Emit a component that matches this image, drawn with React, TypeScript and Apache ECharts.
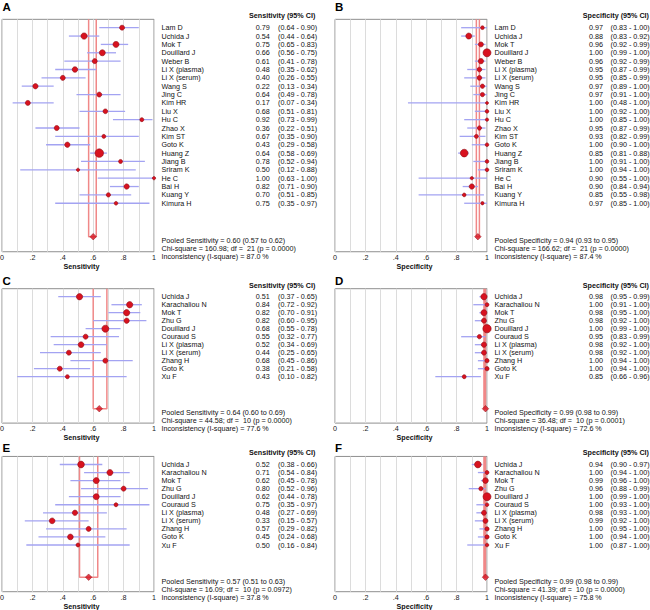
import React, { useEffect, useRef } from 'react';
import * as echarts from 'echarts';

const FONT = '"Liberation Sans", Arial, Helvetica, sans-serif';
const FS = 7.2;

const namesAB = ['Lam D','Uchida J','Mok T','Douillard J','Weber B','Li X (plasma)','Li X (serum)','Wang S','Jing C','Kim HR','Liu X','Hu C','Zhao X','Kim ST','Goto K','Huang Z','Jiang B','Sriram K','He C','Bai H','Kuang Y','Kimura H'];
const namesCF = ['Uchida J','Karachaliou N','Mok T','Zhu G','Douillard J','Couraud S','Li X (plasma)','Li X (serum)','Zhang H','Goto K','Xu F'];

const estA = [0.79,0.54,0.75,0.66,0.61,0.48,0.40,0.22,0.64,0.17,0.68,0.92,0.36,0.67,0.43,0.64,0.78,0.50,1.00,0.82,0.70,0.75];
const loA = [0.64,0.44,0.65,0.56,0.41,0.35,0.26,0.13,0.49,0.07,0.51,0.73,0.22,0.35,0.29,0.58,0.52,0.12,0.63,0.71,0.51,0.35];
const hiA = [0.90,0.64,0.83,0.75,0.78,0.62,0.55,0.34,0.78,0.34,0.81,0.99,0.51,0.90,0.58,0.69,0.94,0.88,1.00,0.90,0.85,0.97];
const weightA = [5,6.3,6,6,5,5.5,5,5.3,5,5,4.7,4,5,4,5.3,8.5,4,3.3,3.3,5.3,4.3,3.7];

const estB = [0.97,0.88,0.96,1.00,0.96,0.95,0.95,0.97,0.97,1.00,1.00,1.00,0.95,0.93,1.00,0.85,1.00,1.00,0.90,0.90,0.85,0.97];
const loB = [0.83,0.83,0.92,0.99,0.92,0.87,0.85,0.89,0.91,0.48,0.92,0.85,0.87,0.82,0.90,0.81,0.91,0.94,0.55,0.84,0.55,0.85];
const hiB = [1.00,0.92,0.99,1.00,0.99,0.99,0.99,1.00,1.00,1.00,1.00,1.00,0.99,0.99,1.00,0.88,1.00,1.00,1.00,0.94,0.98,1.00];
const weightB = [3.7,6,5,8,5.3,4.7,4.7,4.3,4.3,3,3.7,3.3,4.3,4,3.7,7.7,3.7,3.7,3.3,5.3,3.7,3.3];

const estC = [0.51,0.84,0.82,0.82,0.68,0.55,0.52,0.44,0.68,0.38,0.43];
const loC = [0.37,0.72,0.70,0.60,0.55,0.32,0.34,0.25,0.45,0.21,0.10];
const hiC = [0.65,0.92,0.91,0.95,0.78,0.77,0.69,0.65,0.86,0.58,0.82];
const weightC = [6.3,6.3,6.3,5.3,7,5,5.7,5,5,5,4];

const estD = [0.98,1.00,0.98,0.98,1.00,0.95,0.98,0.98,1.00,1.00,0.85];
const loD = [0.95,0.91,0.95,0.92,0.99,0.83,0.92,0.92,0.94,0.94,0.66];
const hiD = [0.99,1.00,1.00,1.00,1.00,0.99,1.00,1.00,1.00,1.00,0.96];
const weightD = [6.3,4,6,5,8.3,4.3,5.3,5,4.3,4.3,4];

const estE = [0.52,0.71,0.62,0.80,0.62,0.75,0.48,0.33,0.57,0.45,0.50];
const loE = [0.38,0.54,0.45,0.52,0.44,0.35,0.27,0.15,0.29,0.24,0.16];
const hiE = [0.66,0.84,0.78,0.96,0.78,0.97,0.69,0.57,0.82,0.68,0.84];
const weightE = [6.7,6,6,5,6,4,5.3,5.7,5,5.7,4];

const estF = [0.94,1.00,0.99,0.96,1.00,1.00,0.98,0.99,1.00,1.00,1.00];
const loF = [0.90,0.94,0.96,0.88,0.99,0.93,0.93,0.92,0.95,0.94,0.87];
const hiF = [0.97,1.00,1.00,0.99,1.00,1.00,1.00,1.00,1.00,1.00,1.00];
const weightF = [6.7,4,5.7,4.3,8,3.7,5,5,4.3,4.3,3.7];

const pooledEst = [0.60,0.94,0.64,0.99,0.57,0.99];
const pooledLo = [0.57,0.93,0.60,0.98,0.51,0.98];
const pooledHi = [0.62,0.95,0.69,0.99,0.63,0.99];
const chiSq = ['160.98','166.62','44.58','36.48','16.09','41.39'];
const dfs = ['21','21','10','10','10','10'];
const pVals = ['0.0000','0.0000','0.0000','0.0001','0.0972','0.0000'];
const iSq = ['87.0','87.4','77.6','72.6','37.8','75.8'];
const measures = ['Sensitivity','Specificity','Sensitivity','Specificity','Sensitivity','Specificity'];
const letters = ['A','B','C','D','E','F'];
const xTickLabels = ['0','.2','.4','.6','.8','1'];

const panels = [
  { names: namesAB, est: estA, lo: loA, hi: hiA, w: weightA, col: 0, row: 0 },
  { names: namesAB, est: estB, lo: loB, hi: hiB, w: weightB, col: 1, row: 0 },
  { names: namesCF, est: estC, lo: loC, hi: hiC, w: weightC, col: 0, row: 1 },
  { names: namesCF, est: estD, lo: loD, hi: hiD, w: weightD, col: 1, row: 1 },
  { names: namesCF, est: estE, lo: loE, hi: hiE, w: weightE, col: 0, row: 2 },
  { names: namesCF, est: estF, lo: loF, hi: hiF, w: weightF, col: 1, row: 2 },
];

const colLeft = [2, 335];
const rowTop = [19.34, 288.7, 456.45];
const rowPx = [8.36, 8.0, 8.05];
const headerY = [15.7, 285.5, 452.7];
const headerX = [249, 582.7];
const letterY = [6.5, 281.3, 448.2];
const letterX = [2.5, 335];
const valueDist = [101.2, 101.5];
const ciDist = [123.5, 123];

const TXT = '#111';
const RED = '#d8121f';
const RED_BORDER = '#8e0c14';

function buildOption() {
  const grid: any[] = [];
  const xAxis: any[] = [];
  const yAxis: any[] = [];
  const series: any[] = [];
  const graphic: any[] = [];

  panels.forEach((p, k) => {
    const n = p.names.length;
    const pr = n + 3;
    const ymax = pr + 1.8;
    const rp = rowPx[p.row];
    grid.push({
      left: colLeft[p.col], top: rowTop[p.row], width: 152, height: (ymax + 1) * rp,
      show: true, borderColor: '#8f8f8f', borderWidth: 1, backgroundColor: 'transparent',
      containLabel: false, outerBoundsMode: 'none',
    });
    xAxis.push({
      gridIndex: k, type: 'value', min: 0, max: 1, interval: 0.1,
      axisLine: { show: false, onZero: false }, axisTick: { show: false },
      splitLine: { show: true, lineStyle: { color: '#dcdcdc', width: 1 } },
      axisLabel: {
        formatter: (v: number) => { const t = Math.round(v * 10); return t % 2 === 0 ? xTickLabels[t / 2] : ''; },
        fontSize: FS, fontFamily: FONT, color: '#1a1a1a', margin: 2, hideOverlap: false,
      },
      name: measures[k], nameLocation: 'middle', nameGap: 11,
      nameTextStyle: { fontSize: FS, fontWeight: 'bold', fontFamily: FONT, color: TXT, padding: [0, 0, 0, 7] },
    });
    yAxis.push({ gridIndex: k, type: 'value', min: -1, max: ymax, inverse: true, show: false });

    const base = { xAxisIndex: k, yAxisIndex: k, silent: true, animation: false, emphasis: { disabled: true } };

    series.push({
      ...base, type: 'line',
      data: [[pooledLo[k], -1], [pooledLo[k], pr], [pooledHi[k], pr], [pooledHi[k], -1]],
      symbol: 'none', lineStyle: { color: '#f08888', width: 1.5 }, z: 2,
    });
    series.push({
      ...base, type: 'custom', clip: false,
      data: p.lo.map((l, i) => [l, p.hi[i], i]),
      encode: { x: [0, 1], y: 2 },
      renderItem: (params: any, api: any) => {
        const a = api.coord([api.value(0), api.value(2)]);
        const b = api.coord([api.value(1), api.value(2)]);
        return { type: 'line', shape: { x1: a[0], y1: a[1], x2: b[0], y2: b[1] }, style: { stroke: '#a3a3f2', lineWidth: 1.3 } };
      },
      z: 3,
    });
    series.push({
      ...base, type: 'scatter', clip: false,
      data: p.est.map((e, i) => [e, i]),
      symbolSize: (_v: any, params: any) => p.w[params.dataIndex],
      itemStyle: { color: RED, borderColor: RED_BORDER, borderWidth: 0.6, opacity: 1 },
      z: 4,
    });
    series.push({
      ...base, type: 'scatter', clip: false,
      data: [[pooledEst[k], pr]], symbol: 'diamond', symbolSize: [6.5, 6.5],
      itemStyle: { color: RED, borderColor: RED_BORDER, borderWidth: 0.6 },
      z: 4,
    });

    const textSeries = (fmt: (i: number) => string, distance: number, count: number, rowOf: (i: number) => number, extra: any = {}) => ({
      ...base, type: 'scatter', clip: false,
      data: Array.from({ length: count }, (_, i) => [1, rowOf(i)]),
      symbolSize: 1, itemStyle: { color: '#000', opacity: 0 },
      label: {
        show: true, position: 'right', distance,
        formatter: (prm: any) => fmt(prm.dataIndex),
        fontSize: FS, fontFamily: FONT, color: TXT, opacity: 1,
        textBorderWidth: 0, textShadowBlur: 0, ...extra,
      },
      labelLayout: { hideOverlap: false },
      z: 5,
    });
    series.push(textSeries((i) => p.names[i], 7, n, (i) => i));
    series.push(textSeries((i) => p.est[i].toFixed(2), valueDist[p.col], n, (i) => i));
    series.push(textSeries((i) => `(${p.lo[i].toFixed(2)} - ${p.hi[i].toFixed(2)})`, ciDist[p.col], n, (i) => i));
    series.push(textSeries(() =>
      `Pooled ${measures[k]} = ${pooledEst[k].toFixed(2)} (${pooledLo[k].toFixed(2)} to ${pooledHi[k].toFixed(2)})\n` +
      `Chi-square = ${chiSq[k]}; df =  ${dfs[k]} (p = ${pVals[k]})\n` +
      `Inconsistency (I-square) = ${iSq[k]} %`,
      7, 1, () => pr, { verticalAlign: 'top', lineHeight: 8, offset: [0, 0.6] }));

    graphic.push({
      type: 'text', x: headerX[p.col], y: headerY[p.row], silent: true,
      style: { text: `${measures[k]} (95% CI)`, font: `bold ${FS}px ${FONT}`, fill: TXT, verticalAlign: 'middle', align: 'left' },
    });
    graphic.push({
      type: 'text', x: letterX[p.col], y: letterY[p.row], silent: true,
      style: { text: letters[k], font: `bold 11.5px ${FONT}`, fill: '#000', verticalAlign: 'middle', align: 'left' },
    });
  });

  return { animation: false, backgroundColor: '#fff', grid, xAxis, yAxis, series, graphic };
}

export default function App() {
  const ref = useRef<HTMLDivElement>(null);
  useEffect(() => {
    document.body.style.margin = '0';
    if (!ref.current) return;
    const chart = echarts.init(ref.current, undefined, { renderer: 'svg' });
    chart.setOption(buildOption() as any);
    return () => chart.dispose();
  }, []);
  return <div ref={ref} style={{ width: 650, height: 610 }} />;
}
